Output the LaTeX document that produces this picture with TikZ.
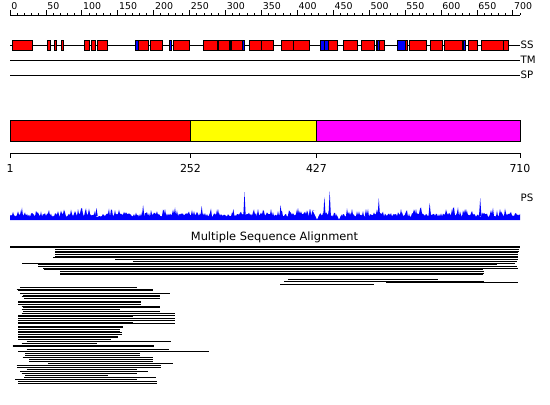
\documentclass[tikz,border=0pt]{standalone}
\usepackage{fontspec}
\setmainfont{DejaVu Sans}
\definecolor{SSRed}{HTML}{FF0000}
\definecolor{SSBlue}{HTML}{0000FF}
\definecolor{DomRed}{HTML}{FF0000}
\definecolor{DomYellow}{HTML}{FFFF00}
\definecolor{DomMagenta}{HTML}{FF00FF}
\definecolor{PSBlue}{HTML}{0000FF}
\usetikzlibrary{positioning}

\begin{document}
\begin{tikzpicture}[x=1pt,y=-1pt,
  track/.style={line width=0.8pt},
  rulertick/.style={line width=0.8pt},
  ssbox/.style={draw=black,line width=0.8pt},
  dombox/.style={draw=black,line width=0.8pt},
  aln/.style={line width=0.9pt},
  rulerlabel/.style={font=\fontsize{9.4}{11}\selectfont,anchor=base west,inner sep=0pt},
  tracklabel/.style={font=\fontsize{10.2}{12}\selectfont,anchor=west,inner sep=0.5pt},
  domlabel/.style={font=\fontsize{11}{13}\selectfont,anchor=base,inner sep=0pt}
]
  \useasboundingbox (0,0) rectangle (550,405);

  \draw[track] (10,15) -- (520,15);
  \foreach \u in {0,10,...,710}
    \draw[rulertick] (10+\u*0.7183,15) -- ++(0,-2.5);
  \foreach \u in {0,50,...,700} {
    \draw[rulertick] (10+\u*0.7183,15) -- ++(0,-5);
    \node[rulerlabel] (r\u) at (11.2+\u*0.7183,9.5) {\u};
  }

  \node[tracklabel] (ss) at (520,45) {SS};
  \node[tracklabel] (tm) at (520,60) {TM};
  \node[tracklabel] (sp) at (520,75) {SP};
  \draw[track] (10,45) -- (ss.west);
  \draw[track] (10,60) -- (tm.west);
  \draw[track] (10,75) -- (sp.west);
  \foreach \a/\b in {12/32,47.5/50.5,54/56.5,61/63.5,84/89.5,91/95,97.5/107.5,138/148,
      150.5/162,173/189,203/217,218/229,231.5/242,249/261,261/273,281/293,293/309.5,
      328/337,343/357.5,361/374,376/384.5,405/407.5,409.5/426,430/442,444/462,
      468.5/477.5,481/503.5,503.5/508}
    \filldraw[ssbox,fill=SSRed] (\a,40.5) rectangle (\b,50.5);
  \foreach \a/\b in {135.5/138,169/171.5,229/230.5,242/244.5,320/324,324/328,377/379,
      397/405,463/465.5}
    \filldraw[ssbox,fill=SSBlue] (\a,40.5) rectangle (\b,50.5);

  \filldraw[dombox,fill=DomRed] (10,120.5) rectangle (190.5,141.5);
  \filldraw[dombox,fill=DomYellow] (190.5,120.5) rectangle (316.5,141.5);
  \filldraw[dombox,fill=DomMagenta] (316.5,120.5) rectangle (520,141.5);
  \draw[track] (10,153) -- (520,153);
  \foreach \p/\x in {1/10,252/190.5,427/316.5,710/520} {
    \draw[rulertick] (\x,153) -- ++(0,4.5);
    \node[domlabel] (d\p) at (\x,172.5) {\p};
  }

  \pgfmathsetseed{4242}
  \fill[PSBlue] (10,220) -- plot[domain=10:520,samples=511]
    (\x,{220-3-3.5*rnd-7*pow(rnd,4)}) -- (520,220) -- cycle;
  \foreach \px/\py in {21/210,58/211,96.5/208,115/210,143.1/205,165/209,201.7/206,
      218/209,233.3/209,244.5/192,258/209,271/209,280.6/205,298/208,310/209,
      324.4/197,329.7/191,352/209,366/209,378.8/198,401/209,416/209,429.7/203,
      452/209,466/209,480.2/198,500/209}
    \fill[PSBlue] (\px-1.2,216) -- (\px,\py) -- (\px+1.2,216) -- cycle;
  \fill[white] (313,211) -- (317,219.3) -- (321,211) -- cycle;
  \fill[white] (335,211) -- (339,219.3) -- (343,211) -- cycle;
  \node[tracklabel] (ps) at (520,198) {PS};

  \node[font=\fontsize{11.4}{13}\selectfont,anchor=base,inner sep=0pt] (msa)
    at (274.5,240) {Multiple Sequence Alignment};

  \foreach \y/\a/\b in {246/10/520,247.7/10/520,249.4/55/519,251.1/55/519,
      252.8/55/518,254.5/55/518,256.2/55/518,257.9/53/518,259.6/115/518,
      261.3/133/517,263/22/515,264.7/38/497,266.4/38/517,268.1/43/518,
      269.8/44/483,271.5/60/484,273.2/60/484,274.9/60/483,279.5/288/438,
      281.2/284/484,282.9/386/518,284.6/280/374}
    \draw[aln] (\a,\y) -- (\b,\y);
  \foreach \y/\a/\b in {287.3/20/137,289/16.7/152.7,290.7/18.3/152.7,293/20/170,
      295/23.3/160,296.7/21.7/160,298.3/24/160,301/18.3/140.7,302.7/18.3/140.7,
      304.3/18.3/140.7,306/21.7/160,307.7/23.3/160,309.7/21.7/120,311.7/23.3/160,
      313.3/21.7/175,315/18.3/175,316.7/18.3/132.7,318.3/18.3/175,320.3/18.3/175,
      322/18.3/132.7,323.7/18.3/175,326/18.3/122.7,327.7/18.3/122.7,329.3/18.3/120,
      331/18.3/120,332.7/18.3/121.7,334.3/18.3/121.7,336/18.3/118.3,337.7/18.3/118.3,
      339.3/18.3/110.7,341.3/26.7/170.7,343/21.7/96.7,345/12.7/154,346.7/12.7/154,
      349/26.7/169.3,351/18.3/209.3,353/25/140,355/25/140,357/22.7/152.7,
      359/29.3/152.7,361/29.3/152.7,363/48.3/173.3,365.3/16.7/160.7,367/17.3/160.7,
      369/26.7/137.3,371/20/148.3,373/21.7/137.3,375/25/108.3,377/24/156,
      379/15/137.3,381/18.3/157.3,383/18.3/157.3}
    \draw[aln] (\a,\y) -- (\b,\y);
\end{tikzpicture}
\end{document}
